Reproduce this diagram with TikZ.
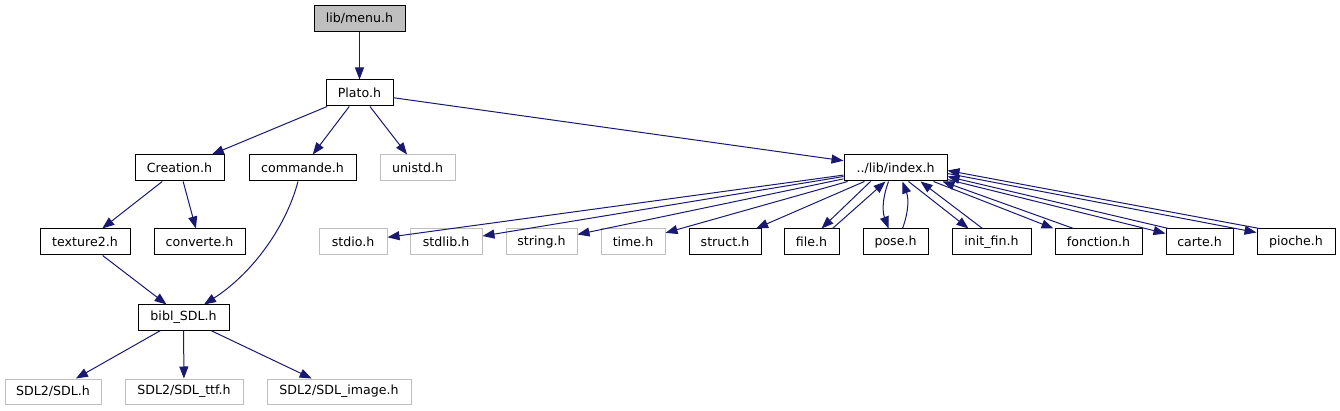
\documentclass[tikz,border=0pt]{standalone}
\usepackage{fontspec}
\setmainfont{DejaVu Sans}
\usetikzlibrary{arrows.meta}
\definecolor{edgecol}{HTML}{191970}
\definecolor{extgray}{HTML}{BFBFBF}
\tikzset{
  box/.style={draw=black, line width=1pt, minimum height=26pt, inner sep=0pt,
    font=\fontsize{12.6}{14}\selectfont},
  ext/.style={box, draw=extgray},
  root/.style={box, fill=extgray},
  edge/.style={draw=edgecol, line width=1pt, -{Triangle[length=12pt,width=9pt]}, edgecol},
}
\begin{document}
\begin{tikzpicture}[x=1pt,y=-1pt]
\useasboundingbox (0,0) rectangle (1340,411);
% row 0
\node[root, minimum width=91] (menu) at (359.5,18.5) {lib/menu.h};
% row 1
\node[box, minimum width=67] (plato) at (359.5,93) {Plato.h};
% row 2
\node[box, minimum width=89] (creation) at (179.5,168) {Creation.h};
\node[box, minimum width=107] (commande) at (302.5,168) {commande.h};
\node[ext, minimum width=75] (unistd) at (417.5,168) {unistd.h};
\node[box, minimum width=103] (index) at (895.5,168) {../lib/index.h};
% row 3
\node[box, minimum width=90] (texture) at (85,242) {texture2.h};
\node[box, minimum width=91] (converte) at (199.5,242) {converte.h};
\node[ext, minimum width=68] (stdio) at (353,242) {stdio.h};
\node[ext, minimum width=72] (stdlib) at (446,242) {stdlib.h};
\node[ext, minimum width=71] (string) at (541.5,242) {string.h};
\node[ext, minimum width=64] (time) at (633,242) {time.h};
\node[box, minimum width=72] (struct) at (725,242) {struct.h};
\node[box, minimum width=55] (file) at (811.5,242) {file.h};
\node[box, minimum width=65] (pose) at (895.5,242) {pose.h};
\node[box, minimum width=79] (initfin) at (991.5,242) {init\_fin.h};
\node[box, minimum width=87] (fonction) at (1098.5,242) {fonction.h};
\node[box, minimum width=67] (carte) at (1199.5,242) {carte.h};
\node[box, minimum width=78] (pioche) at (1296,242) {pioche.h};
% row 4
\node[box, minimum width=91, minimum height=25pt] (bibl) at (183.5,317.5) {bibl\_SDL.h};
% row 5
\node[ext, minimum width=96, minimum height=25pt] (sdl) at (53,391.5) {SDL2/SDL.h};
\node[ext, minimum width=118, minimum height=25pt] (ttf) at (184,391.5) {SDL2/SDL\_ttf.h};
\node[ext, minimum width=144, minimum height=25pt] (image) at (339,391.5) {SDL2/SDL\_image.h};

% edges
\draw[edge] (menu) -- (plato);
\draw[edge] (plato) -- (creation);
\draw[edge] (plato) -- (commande);
\draw[edge] (plato) -- (unistd);
\draw[edge] (plato) -- (index);
\draw[edge] (creation) -- (texture);
\draw[edge] (creation) -- (converte);
\draw[edge] ([xshift=-4.5]commande.south) .. controls (285,230) and (250,275) .. ([xshift=20.5]bibl.north);
\draw[edge] (texture) -- (bibl);
\draw[edge] (bibl) -- (sdl);
\draw[edge] (bibl) -- (ttf);
\draw[edge] (bibl) -- (image);
\draw[edge] (index) -- (stdio);
\draw[edge] (index) -- (stdlib);
\draw[edge] (index) -- (string);
\draw[edge] (index) -- (time);
\draw[edge] (index) -- (struct);
\draw[edge] ([xshift=-25]index.south) -- ([xshift=10]file.north);
\draw[edge] ([xshift=21]file.north) -- ([xshift=-10]index.south);
\draw[edge] ([xshift=-7]index.south) to[bend right=20] ([xshift=-7]pose.north);
\draw[edge] ([xshift=7]pose.north) to[bend right=20] ([xshift=7]index.south);
\draw[edge] ([xshift=13]index.south) -- ([xshift=-23]initfin.north);
\draw[edge] ([xshift=-9]initfin.north) -- ([xshift=25]index.south);
\draw[edge] ([xshift=38]index.south) -- ([xshift=-45]fonction.north);
\draw[edge] ([xshift=-25]fonction.north) -- ([xshift=-5]index.south east);
\draw[edge] ([yshift=2]index.south east) -- ([yshift=-5]carte.north west);
\draw[edge] ([xshift=3]carte.north west) -- ([yshift=5]index.south east);
\draw[edge] ([yshift=8]index.south east) -- ([yshift=-4]pioche.north west);
\draw[edge] ([xshift=3]pioche.north west) -- ([yshift=11]index.south east);
\end{tikzpicture}
\end{document}
